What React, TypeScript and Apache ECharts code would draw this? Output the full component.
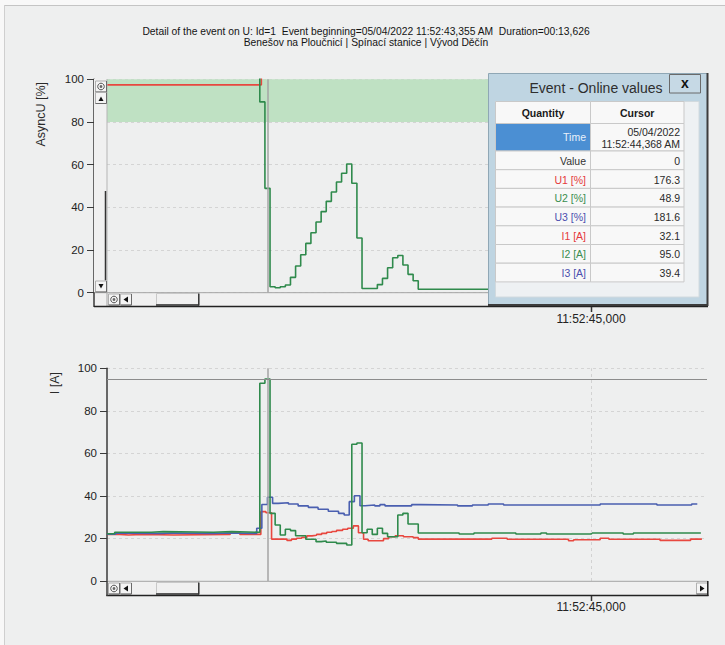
import React, { useEffect, useRef } from "react";
import * as echarts from "echarts";

// ---------- texts ----------
const TITLE_LINE_1 =
  "Detail of the event on U: Id=1  Event beginning=05/04/2022 11:52:43,355 AM  Duration=00:13,626";
const TITLE_LINE_2 = "Benešov na Ploučnicí | Spínací stanice | Vývod Děčín";
const Y_NAME_TOP = "AsyncU [%]";
const Y_NAME_BOTTOM = "I [A]";
const POPUP_TITLE = "Event - Online values";

// ---------- axes (time = ms after 11:52:44,000) ----------
const TIME_MIN = 53;
const TIME_MAX = 1227;
const TIME_TICKS = [1000];
const TIME_TICK_LABELS = ["11:52:45,000"];
const CURSOR_TIME = 368;
const CURSOR_I2 = 95.0;
const Y_MIN = 0;
const Y_MAX = 100;
const Y_STEP = 20;
const LIMIT_BAND = [80, 100];

// ---------- series: [time ms, value] (step changes) ----------
const u1 = [
  [53, 97.4], [355, 176.3], [1215, 176.3],
];
const u2 = [
  [53, 120], [352, 89.4], [362, 48.9], [372, 2.8], [382, 2.3], [392, 2.8], [402, 3.6],
  [412, 7.2], [422, 12.5], [432, 17.8], [442, 23.1], [452, 28.1], [462, 33.1], [472, 38.0],
  [482, 42.8], [492, 47.2], [502, 51.9], [512, 56.0], [522, 60.3], [532, 51.3], [542, 25.6],
  [552, 2.0], [582, 3.8], [592, 6.7], [602, 11.7], [612, 16.4], [622, 17.4], [632, 13.0],
  [642, 8.6], [652, 5.6], [662, 1.6], [1215, 1.6],
];
const i1 = [
  [53, 21.9], [78, 21.6], [95, 21.9], [124, 21.6], [183, 21.9], [294, 22.6], [313, 21.9],
  [354, 32.6], [364, 32.1], [375, 19.7], [405, 19.1], [414, 19.7], [424, 20.1], [434, 20.5],
  [444, 21.2], [454, 21.5], [463, 21.9], [473, 22.4], [483, 22.9], [493, 23.3], [502, 23.8],
  [514, 24.3], [524, 24.8], [535, 25.9], [545, 22.7], [555, 19.6], [564, 18.9], [594, 19.9],
  [604, 20.8], [617, 21.3], [633, 20.8], [652, 20.4], [662, 19.7], [806, 20.1], [836, 19.6],
  [956, 18.9], [966, 19.4], [1018, 20.1], [1035, 19.6], [1135, 19.1], [1195, 19.7], [1217, 19.7],
];
const i2 = [
  [53, 22.2], [68, 22.9], [140, 23.2], [163, 22.9], [261, 23.2], [297, 22.9], [352, 93.0],
  [362, 95.0], [372, 31.8], [382, 26.3], [392, 21.6], [402, 24.3], [412, 23.7], [422, 21.3],
  [442, 19.6], [462, 18.5], [472, 18.8], [482, 18.2], [502, 17.7], [522, 16.9], [532, 64.3],
  [542, 64.9], [552, 22.7], [562, 24.3], [572, 21.9], [582, 24.8], [592, 22.4], [602, 20.8],
  [622, 31.0], [632, 31.8], [642, 26.8], [662, 22.6], [742, 22.1], [771, 22.6], [853, 22.1],
  [902, 22.6], [913, 22.1], [1001, 22.6], [1063, 22.1], [1083, 22.6], [1215, 22.6],
];
const i3 = [
  [53, 22.0], [70, 22.5], [100, 22.3], [160, 22.6], [180, 22.3], [260, 22.6], [290, 22.3],
  [346, 24.8], [356, 36.0], [367, 39.4], [377, 36.5], [388, 36.8], [408, 36.2], [427, 35.3],
  [447, 34.6], [466, 33.7], [486, 32.8], [506, 31.8], [517, 31.0], [527, 37.3], [537, 40.1],
  [548, 35.4], [558, 35.7], [577, 35.3], [587, 35.9], [597, 35.3], [649, 35.9], [665, 35.7],
  [739, 35.3], [768, 35.7], [799, 36.2], [829, 35.7], [1018, 36.2], [1129, 35.7], [1197, 36.2],
  [1208, 36.2],
];

// ---------- popup table ----------
const TABLE_HEADERS = ["Quantity", "Cursor"];
const TABLE_TIME_LABEL = "Time";
const TABLE_TIME_VALUE = ["05/04/2022", "11:52:44,368 AM"];
const TABLE_QUANTITIES = ["Value", "U1 [%]", "U2 [%]", "U3 [%]", "I1 [A]", "I2 [A]", "I3 [A]"];
const TABLE_VALUES = ["0", "176.3", "48.9", "181.6", "32.1", "95.0", "39.4"];

// ---------- styles ----------
const RED = "#e8473f";
const GREEN = "#2f8a4c";
const BLUE = "#4a5fb0";
const LABEL_COLORS = ["#333333", "#e5393b", "#3a8e4f", "#4b4fae", "#e5393b", "#3a8e4f", "#4b4fae"];
const FONT = "Liberation Sans, Arial, sans-serif";
const TRACK = "#f0f0f0";

const rect = (x: number, y: number, w: number, h: number, fill: string, stroke: string | null, z = 50, lw = 1) => ({
  type: "rect", z, silent: true,
  shape: { x, y, width: w, height: h },
  style: { fill, stroke: stroke || "none", lineWidth: lw },
});
const line = (x1: number, y1: number, x2: number, y2: number, stroke: string, lw = 1, z = 50) => ({
  type: "line", z, silent: true,
  shape: { x1, y1, x2, y2 },
  style: { stroke, lineWidth: lw },
});
const text = (x: number, y: number, t: string, size: number, fill: string, align = "center", weight = "normal", z = 50, extra: any = {}) => ({
  type: "text", z, silent: true, x, y,
  style: { text: t, fill, font: `${weight} ${size}px ${FONT}`, align, verticalAlign: "middle" },
  ...extra,
});
const tri = (pts: number[][], z = 52) => ({ type: "polygon", z, silent: true, shape: { points: pts }, style: { fill: "#111" } });
const btn = (x: number, y: number, w = 11, h = 11, z = 51) => [
  rect(x + 0.5, y + 0.5, w, h, "#f4f4f4", "#b0b0b0", z),
  line(x + 0.5, y + h + 0.5, x + w + 0.5, y + h + 0.5, "#6a6a6a", 1, z),
  line(x + w + 0.5, y + 0.5, x + w + 0.5, y + h + 0.5, "#6a6a6a", 1, z),
];
const circleIcon = (cx: number, cy: number, z = 52) => [
  { type: "circle", z, silent: true, shape: { cx, cy, r: 3.3 }, style: { fill: "none", stroke: "#555", lineWidth: 1 } },
  { type: "circle", z, silent: true, shape: { cx, cy, r: 1.4 }, style: { fill: "#666" } },
];

function buildGraphics() {
  const g: any[] = [];
  // outer page / panel frame
  g.push(rect(0, 0, 725, 5, "#f8f8f8", null, 1));
  g.push(rect(0, 0, 4, 645, "#f8f8f8", null, 1));
  g.push(line(4, 5.5, 725, 5.5, "#c4c4c4", 1, 2));
  g.push(line(4.5, 5, 4.5, 645, "#cfcfcf", 1, 2));

  // title
  g.push(text(366, 31, TITLE_LINE_1, 10.3, "#141414"));
  g.push(text(366, 42, TITLE_LINE_2, 10.3, "#141414"));

  // axis names (rotated, reading upwards)
  g.push(text(41, 82, Y_NAME_TOP, 12.5, "#2a2a2a", "right", "normal", 50, { rotation: Math.PI / 2 }));
  g.push(text(55, 372, Y_NAME_BOTTOM, 12.5, "#2a2a2a", "right", "normal", 50, { rotation: Math.PI / 2 }));

  // ---- top chart: vertical scrollbar ----
  g.push(rect(94, 79, 13, 213.5, TRACK, null, 49));
  g.push(line(107, 79, 107, 292.5, "#b5b5b5", 1, 50));
  g.push(...btn(95, 80.5), ...circleIcon(101, 86.5));
  g.push(...btn(95, 92));
  g.push(tri([[98.5, 101], [103.5, 101], [101, 96.5]]));
  g.push(line(105.5, 191, 105.5, 280.5, "#333", 1.5, 51));
  g.push(...btn(95, 280.5));
  g.push(tri([[98.5, 284], [103.5, 284], [101, 288.5]]));
  g.push(line(94, 292.5, 94, 307, "#3a3a3a", 1.5, 52));

  // ---- top chart: horizontal scrollbar ----
  g.push(rect(94, 292.7, 614, 13.5, TRACK, null, 49));
  g.push(line(94, 292.7, 708, 292.7, "#a4a4a4", 1, 50));
  g.push(line(107, 292.7, 107, 306, "#a4a4a4", 1, 50));
  g.push(...btn(108, 293.5), ...circleIcon(114, 299.5));
  g.push(...btn(120, 293.5));
  g.push(tri([[128, 296.5], [128, 302.5], [123.5, 299.5]]));
  g.push(rect(156.5, 293.5, 42, 11, TRACK, "#c8c8c8", 51));
  g.push(line(156, 305, 199, 305, "#333", 1.5, 52));
  g.push(line(198.8, 293.5, 198.8, 305.5, "#333", 1.5, 52));
  g.push(line(94, 306.5, 708, 306.5, "#222", 1.5, 52));

  // ---- bottom chart: horizontal scrollbar ----
  g.push(rect(107, 581, 601, 14, TRACK, null, 49));
  g.push(line(107, 581.3, 708, 581.3, "#a4a4a4", 1, 50));
  g.push(...btn(108, 582.5), ...circleIcon(114, 588.5));
  g.push(...btn(120, 582.5));
  g.push(tri([[128, 585.5], [128, 591.5], [123.5, 588.5]]));
  g.push(rect(156.5, 582.5, 42, 11, TRACK, "#c8c8c8", 51));
  g.push(line(156, 594, 199, 594, "#333", 1.5, 52));
  g.push(line(198.8, 582.5, 198.8, 594.5, "#333", 1.5, 52));
  g.push(...btn(696, 582.5));
  g.push(tri([[700, 585.5], [700, 591.5], [704.5, 588.5]]));
  g.push(line(106.3, 595.5, 708.5, 595.5, "#222", 1.5, 52));
  g.push(line(707.8, 581, 707.8, 596, "#222", 1.5, 52));
  g.push(line(107, 581, 107, 596, "#3a3a3a", 1.5, 52));

  // ---- popup "Event - Online values" ----
  const Z = 100;
  g.push(rect(488.5, 73.5, 219, 231, "#bfd5e2", "#8fa7b5", Z));
  g.push({ type: "polyline", z: Z + 1, silent: true, shape: { points: [[488, 305], [707.5, 305], [707.5, 73]] }, style: { stroke: "#3c3c3c", lineWidth: 2, fill: "none" } });
  g.push(text(596, 88, POPUP_TITLE, 14, "#2e2e2e", "center", "normal", Z + 2));
  g.push(rect(669.5, 74.5, 31, 18.5, "#c6d9e5", "#6a6a6a", Z + 1));
  g.push(text(685, 83, "x", 14, "#111", "center", "bold", Z + 2));
  g.push(rect(495.5, 101.5, 203.5, 195.5, "#eef1f3", "#d2dade", Z + 1));

  const c1x = 495.5, c2x = 590.5, c3x = 684;
  const w1 = c2x - c1x, w2 = c3x - c2x;
  const cellFill = "#f8f8f8", cellStroke = "#c9c9c9";
  // header
  let y = 101.5;
  g.push(rect(c1x, y, w1, 22, cellFill, cellStroke, Z + 2));
  g.push(rect(c2x, y, w2, 22, cellFill, cellStroke, Z + 2));
  g.push(text(c1x + w1 / 2, y + 11, TABLE_HEADERS[0], 10.5, "#1a1a1a", "center", "bold", Z + 3));
  g.push(text(c2x + w2 / 2, y + 11, TABLE_HEADERS[1], 10.5, "#1a1a1a", "center", "bold", Z + 3));
  y += 22;
  // time row
  g.push(rect(c1x, y, w1, 27.5, "#4b8fd3", cellStroke, Z + 2));
  g.push(rect(c2x, y, w2, 27.5, cellFill, cellStroke, Z + 2));
  g.push(text(c2x - 4.5, y + 13.8, TABLE_TIME_LABEL, 10.5, "#e9f1fa", "right", "normal", Z + 3));
  g.push(text(c3x - 4, y + 8, TABLE_TIME_VALUE[0], 10.5, "#2a2a2a", "right", "normal", Z + 3));
  g.push(text(c3x - 4, y + 20, TABLE_TIME_VALUE[1], 10.5, "#2a2a2a", "right", "normal", Z + 3));
  y += 27.5;
  const rh = 18.7;
  TABLE_QUANTITIES.forEach((q, i) => {
    g.push(rect(c1x, y, w1, rh, cellFill, cellStroke, Z + 2));
    g.push(rect(c2x, y, w2, rh, cellFill, cellStroke, Z + 2));
    g.push(text(c2x - 4.5, y + rh / 2 + 0.5, q, 10.5, LABEL_COLORS[i], "right", "normal", Z + 3));
    g.push(text(c3x - 4, y + rh / 2 + 0.5, TABLE_VALUES[i], 10.5, "#2a2a2a", "right", "normal", Z + 3));
    y += rh;
  });
  return g;
}

function buildOption(graphics: any[]) {
  const lineSeries = (data: number[][], color: string, gridIdx: number) => ({
    type: "line",
    xAxisIndex: gridIdx,
    yAxisIndex: gridIdx,
    data,
    step: "end",
    symbol: "none",
    showSymbol: false,
    clip: true,
    silent: true,
    z: 3,
    emphasis: { disabled: true },
    lineStyle: { color, width: 1.6 },
  });
  const markSeries = (gridIdx: number, withBand: boolean, withHLine: boolean) => ({
    type: "line",
    xAxisIndex: gridIdx,
    yAxisIndex: gridIdx,
    data: [],
    z: 1,
    silent: true,
    markArea: withBand
      ? { silent: true, itemStyle: { color: "#bfe1c3", opacity: 1 }, data: [[{ yAxis: LIMIT_BAND[0] }, { yAxis: LIMIT_BAND[1] }]] }
      : undefined,
    markLine: {
      silent: true,
      symbol: ["none", "none"],
      label: { show: false },
      emphasis: { disabled: true },
      data: [
        ...TIME_TICKS.map((t) => ({ xAxis: t, lineStyle: { type: [3, 3], color: "#d2d2d2", width: 1 } })),
        { xAxis: CURSOR_TIME, lineStyle: { type: "solid", color: "#a4a4a4", width: 1.5 } },
        ...(withHLine ? [{ yAxis: CURSOR_I2, lineStyle: { type: "solid", color: "#8c8c8c", width: 1 } }] : []),
      ],
    },
  });
  const xAxis = (gridIndex: number) => ({
    type: "value",
    gridIndex,
    min: TIME_MIN,
    max: TIME_MAX,
    offset: 14,
    axisLine: { show: false },
    splitLine: { show: false },
    axisTick: { show: true, customValues: TIME_TICKS, length: 5, lineStyle: { color: "#333", width: 1.5 } },
    axisLabel: {
      show: true,
      customValues: TIME_TICKS,
      formatter: (v: number) => {
        const k = TIME_TICKS.indexOf(v);
        return k >= 0 ? TIME_TICK_LABELS[k] : "";
      },
      margin: 6,
      fontSize: 12,
      color: "#222",
      fontFamily: FONT,
    },
  });
  const yAxis = (gridIndex: number, offset: number) => ({
    type: "value",
    gridIndex,
    min: Y_MIN,
    max: Y_MAX,
    interval: Y_STEP,
    offset,
    axisLine: { show: true, lineStyle: { color: "#3a3a3a", width: 1.5 } },
    axisTick: { show: true, length: 7, lineStyle: { color: "#3a3a3a", width: 1 } },
    axisLabel: { margin: 10, fontSize: 11.5, color: "#222", fontFamily: FONT },
    splitLine: { show: true, lineStyle: { type: [3, 3], color: "#d4d4d4", width: 1 } },
  });
  return {
    animation: false,
    backgroundColor: "#eeefef",
    textStyle: { fontFamily: FONT },
    grid: [
      { left: 107, top: 79.3, width: 600, height: 213.4 },
      { left: 107, top: 368.3, width: 600, height: 212.7 },
    ],
    xAxis: [xAxis(0), xAxis(1)],
    yAxis: [yAxis(0, 13), yAxis(1, 0)],
    series: [
      markSeries(0, true, false),
      lineSeries(u1, RED, 0),
      lineSeries(u2, GREEN, 0),
      markSeries(1, false, true),
      lineSeries(i1, RED, 1),
      lineSeries(i3, BLUE, 1),
      lineSeries(i2, GREEN, 1),
    ],
    graphic: { elements: graphics },
  };
}

export default function App() {
  const ref = useRef<HTMLDivElement>(null);
  useEffect(() => {
    if (!ref.current) return;
    const chart = echarts.init(ref.current, undefined, { renderer: "svg", width: 725, height: 645 });
    const base = buildGraphics();
    chart.setOption(buildOption(base) as any);
    // time-axis ticks below the scrollbars, positioned through the x scale
    const ticks: any[] = [];
    [{ grid: 0, y: 307 }, { grid: 1, y: 596 }].forEach(({ grid, y }) => {
      TIME_TICKS.forEach((t) => {
        const px = chart.convertToPixel({ xAxisIndex: grid } as any, t) as unknown as number;
        if (typeof px === "number" && isFinite(px)) {
          ticks.push(line(Math.round(px) + 0.5, y, Math.round(px) + 0.5, y + 5, "#333", 1.5, 53));
        }
      });
    });
    chart.setOption({ graphic: { elements: [...base, ...ticks] } } as any);
    return () => chart.dispose();
  }, []);
  return (
    <div style={{ position: "fixed", left: 0, top: 0, width: 725, height: 645, background: "#f8f8f8" }}>
      <div ref={ref} style={{ width: 725, height: 645 }} />
    </div>
  );
}
